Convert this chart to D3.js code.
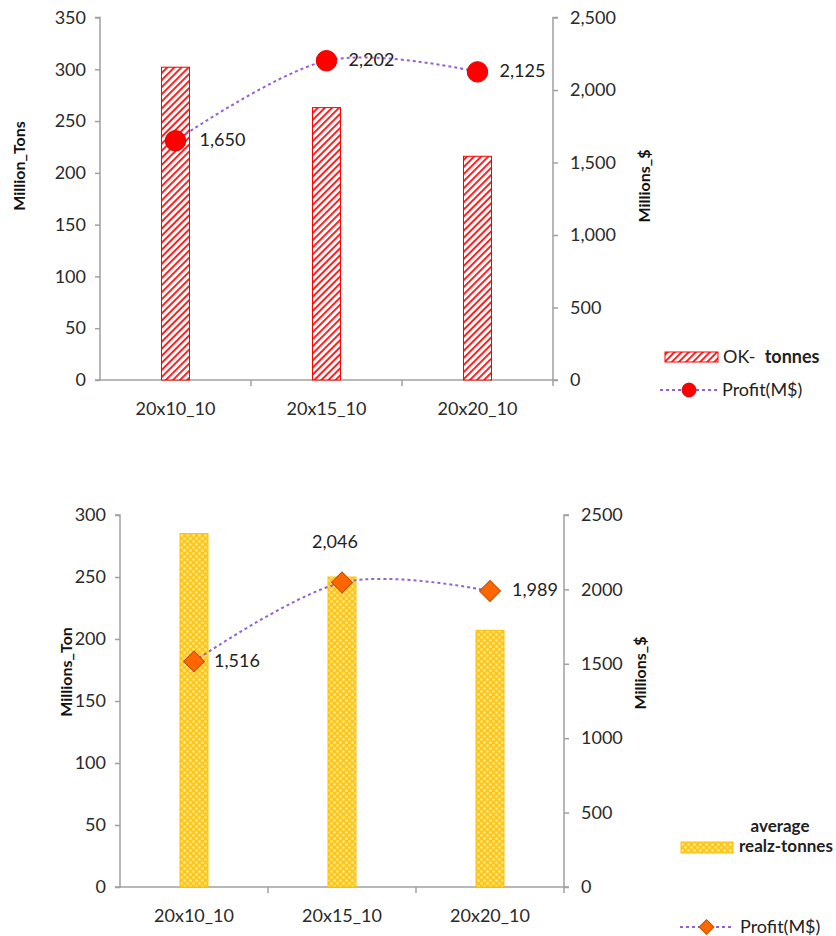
<!DOCTYPE html>
<html>
<head>
<meta charset="utf-8">
<script src="https://cdn.jsdelivr.net/npm/d3@7/dist/d3.min.js"></script>
<style>
  html, body { margin: 0; padding: 0; background: #fff; }
  svg { display: block; font-family: Lato, "Liberation Sans", sans-serif; }
</style>
</head>
<body>
<svg id="chart" width="836" height="936"></svg>
<script>
// Shared categories
const categories = ["20x10_10", "20x15_10", "20x20_10"];

// Upper panel: OK tonnes (left axis) and profit (right axis)
const okTonnes = [302, 263, 216];
const profitUpper = [1650, 2202, 2125];
const upperLeftTicks = [0, 50, 100, 150, 200, 250, 300, 350];
const upperRightTicks = [0, 500, 1000, 1500, 2000, 2500];

// Lower panel: average realized tonnes (left axis) and profit (right axis)
const realzTonnes = [285, 250, 207];
const profitLower = [1516, 2046, 1989];
const lowerLeftTicks = [0, 50, 100, 150, 200, 250, 300];
const lowerRightTicks = [0, 500, 1000, 1500, 2000, 2500];

const svg = d3.select("#chart");
const defs = svg.append("defs");

// Red diagonal hatch
const hatch = defs.append("pattern")
  .attr("id", "hatchRed")
  .attr("patternUnits", "userSpaceOnUse")
  .attr("width", 5).attr("height", 10)
  .attr("patternTransform", "rotate(45)");
hatch.append("rect").attr("width", 5).attr("height", 10).attr("fill", "#fff");
hatch.append("rect").attr("width", 2).attr("height", 10).attr("fill", "#ff2020");

// Gold lattice
const lattice = defs.append("pattern")
  .attr("id", "latticeGold")
  .attr("patternUnits", "userSpaceOnUse")
  .attr("width", 6).attr("height", 6);
lattice.append("rect").attr("width", 6).attr("height", 6).attr("fill", "#ffc61a");
lattice.append("circle").attr("cx", 1.5).attr("cy", 1.5).attr("r", 1.3).attr("fill", "#ffeaa6");
lattice.append("circle").attr("cx", 4.5).attr("cy", 4.5).attr("r", 1.3).attr("fill", "#ffeaa6");

const axisColor = "#a0a0a0";
const tickText = "#2a2a2a";
const lineColor = "#9461d4";
const baseSize = 18;

function drawPanel(cfg) {
  const g = svg.append("g");
  const x = d3.scaleBand().domain(categories).range([cfg.left, cfg.right]).padding(0);
  const yL = d3.scaleLinear().domain([0, d3.max(cfg.leftTicks)]).range([cfg.bottom, cfg.top]);
  const yR = d3.scaleLinear().domain([0, d3.max(cfg.rightTicks)]).range([cfg.bottom, cfg.top]);
  const barW = 28;

  // Left axis
  const axL = g.append("g").attr("transform", `translate(${cfg.left},0)`)
    .call(d3.axisLeft(yL).tickValues(cfg.leftTicks).tickSize(5).tickPadding(9));
  // Right axis
  const axR = g.append("g").attr("transform", `translate(${cfg.right},0)`)
    .call(d3.axisRight(yR).tickValues(cfg.rightTicks).tickSize(5).tickPadding(12)
      .tickFormat(cfg.rightFormat));
  // Category axis with ticks at band boundaries
  const axX = g.append("g").attr("transform", `translate(0,${cfg.bottom})`)
    .call(d3.axisBottom(x).tickSize(0).tickPadding(22));
  axX.selectAll(".tick line").remove();
  categories.forEach((c, i) => {
    axX.append("line")
      .attr("x1", x(c) + x.bandwidth()).attr("x2", x(c) + x.bandwidth())
      .attr("y1", 0).attr("y2", 6);
  });

  [axL, axR, axX].forEach(a => {
    a.selectAll("path.domain").attr("stroke", axisColor).attr("stroke-width", 1.5);
    a.selectAll("line").attr("stroke", axisColor).attr("stroke-width", 1.5);
    a.selectAll("text").attr("fill", tickText).attr("font-size", baseSize)
      .attr("font-family", "Lato, 'Liberation Sans', sans-serif");
  });
  axL.select("path.domain").attr("d", `M-5,${cfg.top}H0V${cfg.bottom}H-5`);
  axR.select("path.domain").attr("d", `M5,${cfg.top}H0V${cfg.bottom}H5`);
  axX.select("path.domain").attr("d", `M${cfg.left},0H${cfg.right}`);

  // Bars
  g.append("g").selectAll("rect").data(cfg.bars).join("rect")
    .attr("x", (d, i) => x(categories[i]) + x.bandwidth() / 2 - barW / 2)
    .attr("y", d => yL(d))
    .attr("width", barW)
    .attr("height", d => cfg.bottom - yL(d))
    .attr("fill", `url(#${cfg.pattern})`)
    .attr("stroke", cfg.barStroke).attr("stroke-width", 1);

  // Profit line
  const pts = cfg.profit.map((v, i) => [x(categories[i]) + x.bandwidth() / 2, yR(v)]);
  g.append("path")
    .attr("d", d3.line().curve(d3.curveCardinal)(pts))
    .attr("fill", "none").attr("stroke", lineColor)
    .attr("stroke-width", 2).attr("stroke-dasharray", "3,3");

  // Markers
  const mk = g.append("g").selectAll("path").data(pts).join("path")
    .attr("transform", d => `translate(${d[0]},${d[1]})`)
    .attr("d", d3.symbol().type(cfg.marker).size(cfg.markerSize))
    .attr("fill", cfg.markerFill).attr("stroke", cfg.markerStroke).attr("stroke-width", 1);
  if (cfg.marker === d3.symbolSquare) mk.attr("transform", d => `translate(${d[0]},${d[1]}) rotate(45)`);

  // Value labels
  g.append("g").selectAll("text").data(cfg.profit).join("text")
    .attr("x", (d, i) => pts[i][0] + cfg.labelOffsets[i][0])
    .attr("y", (d, i) => pts[i][1] + cfg.labelOffsets[i][1])
    .attr("text-anchor", (d, i) => cfg.labelOffsets[i][2] || "start")
    .attr("dominant-baseline", "middle")
    .attr("font-size", baseSize).attr("fill", "#222")
    .text(d => d3.format(",")(d));

  // Axis titles
  g.append("text")
    .attr("transform", `translate(${cfg.leftTitleX},${cfg.leftTitleY}) rotate(-90)`)
    .attr("text-anchor", "middle").attr("font-weight", "bold").attr("font-size", 16)
    .attr("fill", "#111").text(cfg.leftTitle);
  g.append("text")
    .attr("transform", `translate(${cfg.rightTitleX},${cfg.rightTitleY}) rotate(-90)`)
    .attr("text-anchor", "middle").attr("font-weight", "bold").attr("font-size", 16)
    .attr("fill", "#111").text(cfg.rightTitle);

  return { g };
}

drawPanel({
  left: 100, right: 553, top: 17.5, bottom: 380,
  leftTicks: upperLeftTicks, rightTicks: upperRightTicks,
  rightFormat: d3.format(","),
  bars: okTonnes, profit: profitUpper,
  pattern: "hatchRed", barStroke: "#ff0000",
  marker: d3.symbolCircle, markerSize: 330, markerFill: "#ff0000", markerStroke: "#e00000",
  labelOffsets: [[24, 1], [22, 1], [22, 1]],
  leftTitle: "Million_Tons", leftTitleX: 25, leftTitleY: 166,
  rightTitle: "Millions_$", rightTitleX: 650, rightTitleY: 186
});

drawPanel({
  left: 120, right: 564, top: 515, bottom: 887,
  leftTicks: lowerLeftTicks, rightTicks: lowerRightTicks,
  rightFormat: d3.format("d"),
  bars: realzTonnes, profit: profitLower,
  pattern: "latticeGold", barStroke: "#ffc000",
  marker: d3.symbolSquare, markerSize: 220, markerFill: "#ff6600", markerStroke: "#c45000",
  labelOffsets: [[20, 1], [-7, -39, "middle"], [22, 0]],
  leftTitle: "Millions_Ton", leftTitleX: 72, leftTitleY: 672,
  rightTitle: "Millions_$", rightTitleX: 646, rightTitleY: 673
});

// Legends
function legendLine(y, x0, x1, markerType, size, fill, stroke, rotate) {
  svg.append("line").attr("x1", x0).attr("x2", x1).attr("y1", y).attr("y2", y)
    .attr("stroke", lineColor).attr("stroke-width", 2).attr("stroke-dasharray", "3,3");
  svg.append("path")
    .attr("transform", `translate(${(x0 + x1) / 2},${y})${rotate ? " rotate(45)" : ""}`)
    .attr("d", d3.symbol().type(markerType).size(size))
    .attr("fill", fill).attr("stroke", stroke);
}

// Upper legend
svg.append("rect").attr("x", 665).attr("y", 352).attr("width", 53).attr("height", 10)
  .attr("fill", "url(#hatchRed)").attr("stroke", "#ff0000");
const t1 = svg.append("text").attr("x", 723).attr("y", 358).attr("dominant-baseline", "middle")
  .attr("font-size", baseSize).attr("fill", "#222");
t1.append("tspan").text("OK-\u00a0 ");
t1.append("tspan").attr("font-weight", "bold").text("tonnes");
legendLine(390, 660, 718, d3.symbolCircle, 150, "#ff0000", "#e00000", false);
svg.append("text").attr("x", 722).attr("y", 391).attr("dominant-baseline", "middle")
  .attr("font-size", baseSize).attr("fill", "#222").text("Profit(M$)");

// Lower legend
svg.append("text").attr("x", 780).attr("y", 828).attr("text-anchor", "middle")
  .attr("dominant-baseline", "middle").attr("font-size", 17).attr("font-weight", "bold")
  .attr("fill", "#222").text("average");
svg.append("rect").attr("x", 681).attr("y", 842).attr("width", 52).attr("height", 11)
  .attr("fill", "url(#latticeGold)").attr("stroke", "#ffc000");
svg.append("text").attr("x", 739).attr("y", 848).attr("dominant-baseline", "middle")
  .attr("font-size", 17).attr("font-weight", "bold").attr("fill", "#222").text("realz-tonnes");
legendLine(927, 680, 733, d3.symbolSquare, 110, "#ff6600", "#c45000", true);
svg.append("text").attr("x", 740).attr("y", 928).attr("dominant-baseline", "middle")
  .attr("font-size", baseSize).attr("fill", "#222").text("Profit(M$)");
</script>
</body>
</html>
